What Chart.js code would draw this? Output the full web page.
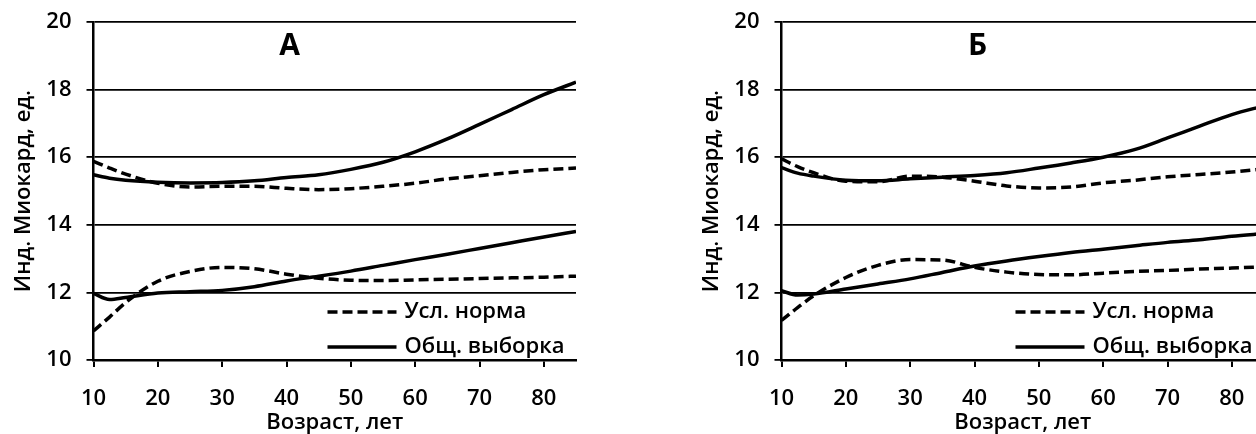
<!DOCTYPE html>
<html><head><meta charset="utf-8">
<script src="https://cdn.jsdelivr.net/npm/chart.js@4.4.1/dist/chart.umd.min.js"></script>
<style>
html,body{margin:0;padding:0;background:#fff;overflow:hidden;width:1256px;height:434px;}
#wrap{position:relative;width:1256px;height:434px;overflow:hidden;}
canvas{position:absolute;top:0;}
#cA{left:0;} #cB{left:688px;}
</style></head><body>
<div id="wrap"><canvas id="cA" width="628" height="434"></canvas><canvas id="cB" width="628" height="434"></canvas></div>
<script>
// ---- data ----
const ages = [10, 12.5, 15, 20, 25, 30, 35, 40, 45, 50, 55, 60, 65, 70, 75, 80, 85];
const xTickValues = [10, 20, 30, 40, 50, 60, 70, 80];
const yTickValues = [10, 12, 14, 16, 18, 20];
const seriesNames = ['Усл. норма', 'Общ. выборка'];
const panelTitles = ['А', 'Б'];
const yAxisTitle = 'Инд. Миокард, ед.';
const xAxisTitle = 'Возраст, лет';

// Panel A
const normUpperA  = [15.88, 15.68, 15.50, 15.23, 15.12, 15.14, 15.14, 15.08, 15.04, 15.07, 15.14, 15.23, 15.36, 15.45, 15.55, 15.63, 15.68];
const totalUpperA = [15.48, 15.38, 15.32, 15.26, 15.24, 15.25, 15.30, 15.40, 15.48, 15.64, 15.85, 16.16, 16.54, 16.97, 17.41, 17.85, 18.22];
const normLowerA  = [10.86, 11.27, 11.70, 12.33, 12.62, 12.74, 12.70, 12.54, 12.42, 12.36, 12.35, 12.37, 12.39, 12.41, 12.43, 12.45, 12.48];
const totalLowerA = [11.97, 11.79, 11.85, 11.98, 12.02, 12.06, 12.17, 12.34, 12.48, 12.63, 12.80, 12.97, 13.13, 13.30, 13.47, 13.64, 13.80];

// Panel B
const normUpperB  = [15.95, 15.72, 15.54, 15.29, 15.27, 15.44, 15.41, 15.29, 15.15, 15.09, 15.12, 15.24, 15.32, 15.42, 15.49, 15.56, 15.66];
const totalUpperB = [15.69, 15.53, 15.44, 15.32, 15.30, 15.36, 15.41, 15.46, 15.54, 15.68, 15.83, 16.00, 16.23, 16.57, 16.92, 17.26, 17.52];
const normLowerB  = [11.17, 11.55, 11.90, 12.44, 12.80, 12.97, 12.96, 12.74, 12.60, 12.53, 12.52, 12.57, 12.62, 12.65, 12.69, 12.72, 12.76];
const totalLowerB = [12.05, 11.92, 11.95, 12.10, 12.25, 12.40, 12.59, 12.78, 12.93, 13.06, 13.18, 13.28, 13.38, 13.48, 13.56, 13.66, 13.74];

// ---- rendering ----
const FONT = "'Open Sans', 'Noto Sans', 'DejaVu Sans', sans-serif";
Chart.defaults.font.family = FONT;
Chart.defaults.font.weight = '600';
Chart.defaults.color = '#000';

const overlayPlugin = {
  id: 'overlay',
  afterDraw(chart, args, opts) {
    const { ctx, chartArea: a } = chart;
    ctx.save();
    ctx.fillStyle = '#000';
    ctx.font = "bold 30px " + FONT;
    ctx.textAlign = 'center';
    ctx.textBaseline = 'middle';
    ctx.fillText(opts.panel, a.left + 196, a.top + 24);
    ctx.font = "600 22px " + FONT;
    ctx.textAlign = 'left';
    const uniq = [];
    chart.data.datasets.forEach(ds => { if (!uniq.find(u => u.label === ds.label)) uniq.push(ds); });
    uniq.forEach((ds, i) => {
      const y = a.bottom - 48 + i * 35;
      ctx.strokeStyle = ds.borderColor;
      ctx.lineWidth = ds.borderWidth;
      ctx.lineCap = 'butt';
      ctx.setLineDash(ds.borderDash || []);
      ctx.beginPath(); ctx.moveTo(a.left + 234, y); ctx.lineTo(a.left + 303, y); ctx.stroke();
      ctx.setLineDash([]);
      ctx.fillText(ds.label, a.left + 311, y);
    });
    ctx.restore();
  }
};

function pts(arr) { return ages.map((a, i) => ({ x: a, y: arr[i] })); }

function makeChart(id, panel, nu, tu, nl, tl) {
  const mk = (arr, name, dashed) => ({
    label: name, data: pts(arr), borderColor: '#000', borderWidth: 3.5,
    borderDash: dashed ? [10, 5] : [], borderCapStyle: 'butt',
    pointRadius: 0, fill: false, cubicInterpolationMode: 'monotone'
  });
  new Chart(document.getElementById(id), {
    type: 'line',
    data: { datasets: [
      mk(nu, seriesNames[0], true), mk(tu, seriesNames[1], false),
      mk(nl, seriesNames[0], true), mk(tl, seriesNames[1], false)
    ] },
    options: {
      responsive: false, animation: false, devicePixelRatio: 1,
      layout: { padding: { top: 22, right: 52, bottom: 0, left: 0 } },
      plugins: { legend: { display: false }, tooltip: { enabled: false }, overlay: { panel } },
      scales: {
        x: {
          type: 'linear', min: 10, max: 85,
          afterBuildTicks: s => { s.ticks = xTickValues.map(v => ({ value: v })); },
          afterFit: s => { s.height = 74; s.paddingLeft = 0; s.paddingRight = 0; },
          grid: { drawOnChartArea: false, drawTicks: true, tickLength: 7, color: '#000', lineWidth: 2 },
          border: { color: '#000', width: 2.5 },
          ticks: { font: { size: 22, weight: '600' }, padding: 19, maxRotation: 0, color: '#000' },
          title: { display: true, text: xAxisTitle, font: { size: 22, weight: '600' }, padding: { top: 0, bottom: -2 }, color: '#000' }
        },
        y: {
          type: 'linear', min: 10, max: 20,
          afterBuildTicks: s => { s.ticks = yTickValues.map(v => ({ value: v })); },
          afterFit: s => { s.width = 93.5; s.paddingTop = 0; s.paddingBottom = 0; },
          grid: { drawTicks: true, tickLength: 7, color: '#000', lineWidth: 1.8 },
          border: { color: '#000', width: 2.5 },
          ticks: { font: { size: 22, weight: '600' }, padding: 15, color: '#000' },
          title: { display: true, text: yAxisTitle, font: { size: 22, weight: '600' }, padding: { top: 11, bottom: 0 }, color: '#000' }
        }
      }
    },
    plugins: [overlayPlugin]
  });
}

makeChart('cA', panelTitles[0], normUpperA, totalUpperA, normLowerA, totalLowerA);
makeChart('cB', panelTitles[1], normUpperB, totalUpperB, normLowerB, totalLowerB);
</script>
</body></html>
